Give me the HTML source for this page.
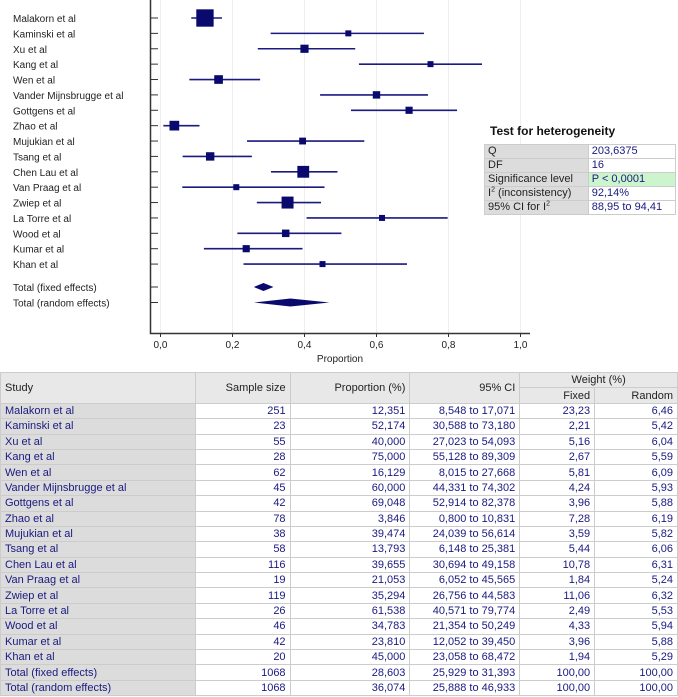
<!DOCTYPE html>
<html><head><meta charset="utf-8"><style>
body{margin:0;background:#fff;font-family:"Liberation Sans",sans-serif;}
#wrap{position:relative;width:678px;height:697px;overflow:hidden}
table{border-collapse:collapse;position:absolute;left:0;top:372px;width:678px;font-size:11px;color:#1a1a80}
td,th{border:1px solid #ccc;padding:0 4px;height:14.4px;line-height:14px;white-space:nowrap}
th{background:#e8e8e8;color:#222;font-weight:normal}
td.s{background:#dcdcdc;text-align:left}
td{text-align:right}
#het{position:absolute;left:484px;top:144px;border-collapse:collapse;font-size:11px;width:192px}
#het td{height:13px;line-height:13px;padding:0 3px;text-align:left}
#het td.s{color:#222}
sup{line-height:0;font-size:7px}
</style></head><body><div id="wrap">
<svg id="plot" width="678" height="372" style="position:absolute;left:0;top:0"></svg>
<div style="position:absolute;left:490px;top:124px;font-size:12px;font-weight:bold;color:#111">Test for heterogeneity</div>
<table id="het">
<tr><td class="s">Q</td><td style="color:#1a1a80">203,6375</td></tr>
<tr><td class="s">DF</td><td style="color:#1a1a80">16</td></tr>
<tr><td class="s">Significance level</td><td style="color:#1a1a80;background:#cdf5cd">P &lt; 0,0001</td></tr>
<tr><td class="s">I<sup>2</sup> (inconsistency)</td><td style="color:#1a1a80">92,14%</td></tr>
<tr><td class="s">95% CI for I<sup>2</sup></td><td style="color:#1a1a80">88,95 to 94,41</td></tr>
</table>
<table id="tbl">
<colgroup><col style="width:195px"><col style="width:95px"><col style="width:120px"><col style="width:110px"><col style="width:75px"><col style="width:83px"></colgroup>
<tr><th rowspan="2" style="text-align:left">Study</th><th rowspan="2" style="text-align:right">Sample size</th><th rowspan="2" style="text-align:right">Proportion (%)</th><th rowspan="2" style="text-align:right">95% CI</th><th colspan="2">Weight (%)</th></tr>
<tr><th style="text-align:right">Fixed</th><th style="text-align:right">Random</th></tr>
</table>
</div>
<script>
const studies=["Malakorn et al","Kaminski et al","Xu et al","Kang et al","Wen et al","Vander Mijnsbrugge et al","Gottgens et al","Zhao et al","Mujukian et al","Tsang et al","Chen Lau et al","Van Praag et al","Zwiep et al","La Torre et al","Wood et al","Kumar et al","Khan et al"];
const sizes=[251,23,55,28,62,45,42,78,38,58,116,19,119,26,46,42,20];
const props=[12.351,52.174,40.000,75.000,16.129,60.000,69.048,3.846,39.474,13.793,39.655,21.053,35.294,61.538,34.783,23.810,45.000];
const lows=[8.548,30.588,27.023,55.128,8.015,44.331,52.914,0.800,24.039,6.148,30.694,6.052,26.756,40.571,21.354,12.052,23.058];
const highs=[17.071,73.180,54.093,89.309,27.668,74.302,82.378,10.831,56.614,25.381,49.158,45.565,44.583,79.774,50.249,39.450,68.472];
const wFixed=[23.23,2.21,5.16,2.67,5.81,4.24,3.96,7.28,3.59,5.44,10.78,1.84,11.06,2.49,4.33,3.96,1.94];
const wRandom=[6.46,5.42,6.04,5.59,6.09,5.93,5.88,6.19,5.82,6.06,6.31,5.24,6.32,5.53,5.94,5.88,5.29];
const totals=["Total (fixed effects)","Total (random effects)"];
const totN=[1068,1068];
const totP=[28.603,36.074];
const totLo=[25.929,25.888];
const totHi=[31.393,46.933];
const xTicks=[0,0.2,0.4,0.6,0.8,1.0];
const xTickLabels=["0,0","0,2","0,4","0,6","0,8","1,0"];
const NS="http://www.w3.org/2000/svg";
const svg=document.getElementById('plot');
const X=v=>160.5+v*360;
const rowY=i=>18+i*15.38;
const totY=i=>287+i*15.5;
function el(t,a){const e=document.createElementNS(NS,t);for(const k in a)e.setAttribute(k,a[k]);svg.appendChild(e);return e;}
xTicks.forEach((t,i)=>{
 const g=el('line',{x1:X(t),x2:X(t),y1:0,y2:333,stroke:'#eee'});
 
 
 const tk=el('line',{x1:X(t),x2:X(t),y1:333,y2:337,stroke:'#333'});
 
 
 const tx=el('text',{x:X(t),y:348,'font-size':10,'text-anchor':'middle',fill:'#222'});
 tx.textContent=xTickLabels[i];
 
 
});
const ax=el('path',{d:'M150.5 0 V333.5 H530',stroke:'#333',fill:'none','stroke-width':1.5});


const xt=el('text',{x:340,y:362,'font-size':10,'text-anchor':'middle',fill:'#222'});
xt.textContent='Proportion';


studies.forEach((s,i)=>{
 const y=rowY(i);
 const lb=el('text',{x:13,y:y+4,'font-size':10,fill:'#222'});lb.textContent=s;
 
 
 const tk=el('line',{x1:150,x2:158,y1:y,y2:y,stroke:'#333'});
 
 
 const ln=el('line',{x1:X(lows[i]/100),x2:X(highs[i]/100),y1:y,y2:y,stroke:'#1a1a80','stroke-width':1.6});
 
 
 const sz=Math.max(6,Math.sqrt(wFixed[i])*3.6);
 const r=el('rect',{x:X(props[i]/100)-sz/2,y:y-sz/2,width:sz,height:sz,fill:'#0a0a6e'});
 
 
});
totals.forEach((s,i)=>{
 const y=totY(i);
 const lb=el('text',{x:13,y:y+4,'font-size':10,fill:'#222'});lb.textContent=s;
 
 
 const tk=el('line',{x1:150,x2:158,y1:y,y2:y,stroke:'#333'});
 
 
 const d=el('polygon',{points:`${X(totLo[i]/100)},${y} ${X(totP[i]/100)},${y-4} ${X(totHi[i]/100)},${y} ${X(totP[i]/100)},${y+4}`,fill:'#0a0a6e'});
 
 
});
const tb=document.getElementById('tbl');
const f=v=>v.toFixed(3).replace('.',',');
const f2=v=>v.toFixed(2).replace('.',',');
function addRow(n,sz,p,lo,hi,wf,wr){
 const tr=document.createElement('tr');
 
 
 tr.innerHTML=`<td class="s">${n}</td><td>${sz}</td><td>${f(p)}</td><td>${f(lo)} to ${f(hi)}</td><td>${wf}</td><td>${wr}</td>`;
 tb.appendChild(tr);
}
studies.forEach((s,i)=>addRow(s,sizes[i],props[i],lows[i],highs[i],f2(wFixed[i]),f2(wRandom[i])));
totals.forEach((s,i)=>addRow(s,totN[i],totP[i],totLo[i],totHi[i],'100,00','100,00'));
</script></body></html>
